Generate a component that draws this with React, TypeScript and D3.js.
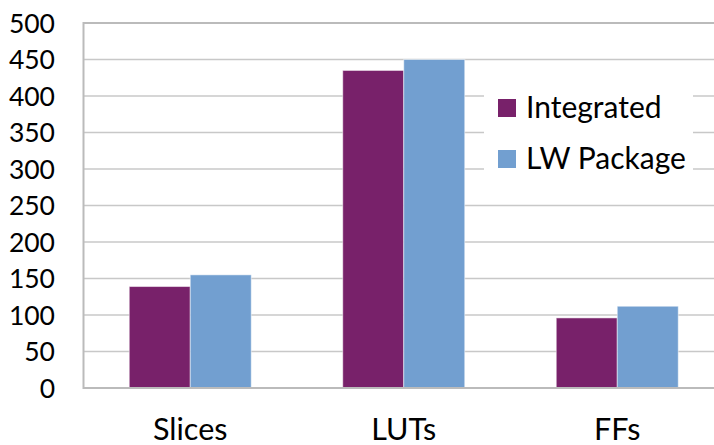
import React from "react";
import * as d3 from "d3";

const categories = ["Slices", "LUTs", "FFs"];
const seriesNames = ["Integrated", "LW Package"];
const integrated = [139, 435, 96];
const lwPackage = [155, 450, 112];
const yTicks = [0, 50, 100, 150, 200, 250, 300, 350, 400, 450, 500];
const colors = ["#78216A", "#729FD0"];

export default function App() {
  const W = 714, H = 445;
  const left = 83.5, right = 724, top = 23, bottom = 388;
  const x = d3.scaleBand().domain(categories).range([left, right]).paddingInner(0).paddingOuter(0);
  const y = d3.scaleLinear().domain([0, 500]).range([bottom, top]);
  const bw = x.bandwidth();
  const barW = bw / 3.5;
  const series = [integrated, lwPackage];
  const font = "Lato, 'Open Sans', sans-serif";
  return (
    <svg width={W} height={H} style={{ position: "absolute", left: 0, top: 0, background: "#fff" }}>
      {yTicks.map((t) => (
        <line key={t} x1={left} x2={W} y1={y(t)} y2={y(t)} stroke={t === 500 ? "#bbbbbb" : "#c8c8c8"} strokeWidth={t === 500 ? 2 : 1.3} />
      ))}
      {yTicks.map((t) => (
        <text key={"l" + t} x={55} y={y(t) + 9.5} textAnchor="end" fontFamily={font} fontSize={26.5} fill="#000">{t}</text>
      ))}
      {categories.map((c, i) => (
        <g key={c}>
          {series.map((s, j) => {
            const cx = (x(c) as number) + bw / 2;
            const bx = cx - barW + j * barW;
            return (
              <rect key={j} x={bx} y={y(s[i])} width={barW} height={y(0) - y(s[i])} fill={colors[j]} stroke="#ffffff" strokeOpacity={0.5} strokeWidth={1} />
            );
          })}
          <text x={(x(c) as number) + bw / 2} y={440} textAnchor="middle" fontFamily={font} fontSize={30.5} fill="#000">{c}</text>
        </g>
      ))}
      <line x1={left} x2={left} y1={top - 1} y2={bottom + 1} stroke="#bbbbbb" strokeWidth={2} />
      <line x1={left} x2={W} y1={bottom} y2={bottom} stroke="#bbbbbb" strokeWidth={2} />
      <rect x={484} y={80} width={209} height={110} fill="#ffffff" />
      {seriesNames.map((n, i) => (
        <g key={n}>
          <rect x={498} y={99 + i * 51} width={18} height={18} fill={colors[i]} />
          <text x={526} y={118 + i * 51} fontFamily={font} fontSize={30} fill="#000">{n}</text>
        </g>
      ))}
    </svg>
  );
}
